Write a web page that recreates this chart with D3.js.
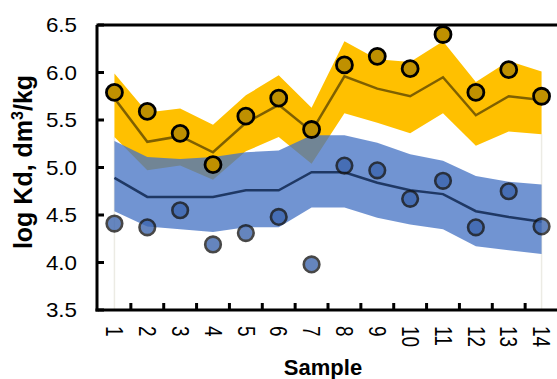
<!DOCTYPE html>
<html>
<head>
<meta charset="utf-8">
<script src="https://cdn.jsdelivr.net/npm/d3@7"></script>
<style>
  body { margin: 0; background: #fff; }
  svg { display: block; font-family: "Liberation Sans", Arial, sans-serif; }
</style>
</head>
<body>
<div id="chart"></div>
<script>
var samples = ["1","2","3","4","5","6","7","8","9","10","11","12","13","14"];
var yTicks = [3.5, 4.0, 4.5, 5.0, 5.5, 6.0, 6.5];

// orange series (upper group)
var orangeUpper = [5.99, 5.58, 5.62, 5.45, 5.76, 5.97, 5.63, 6.33, 6.14, 6.11, 6.33, 5.90, 6.12, 6.01];
var orangeLower = [5.32, 4.97, 5.02, 4.87, 5.17, 5.32, 5.04, 5.57, 5.47, 5.36, 5.57, 5.23, 5.38, 5.35];
var orangeMid   = [5.73, 5.27, 5.33, 5.16, 5.47, 5.66, 5.38, 5.96, 5.83, 5.75, 5.95, 5.55, 5.75, 5.71];
var orangePts   = [5.79, 5.59, 5.36, 5.03, 5.54, 5.73, 5.40, 6.08, 6.17, 6.04, 6.40, 5.79, 6.03, 5.75];

// blue series (lower group)
var blueUpper = [5.28, 5.11, 5.09, 5.11, 5.16, 5.18, 5.34, 5.34, 5.26, 5.14, 5.07, 4.91, 4.85, 4.82];
var blueLower = [4.54, 4.38, 4.35, 4.32, 4.37, 4.37, 4.58, 4.58, 4.47, 4.40, 4.35, 4.17, 4.13, 4.09];
var blueMid   = [4.89, 4.69, 4.69, 4.69, 4.76, 4.76, 4.95, 4.95, 4.84, 4.76, 4.72, 4.54, 4.48, 4.43];
var bluePts   = [4.41, 4.37, 4.55, 4.19, 4.31, 4.48, 3.98, 5.02, 4.97, 4.67, 4.86, 4.37, 4.75, 4.38];

var w = 557, h = 379;
var plotL = 98, plotR = 558, plotT = 25, plotB = 310;

var svg = d3.select("#chart").append("svg").attr("width", w).attr("height", h);

var x = d3.scaleBand().domain(samples).range([plotL, plotR]);
var y = d3.scaleLinear().domain([3.5, 6.5]).range([plotB, plotT]);
var cx = function(i) { return x(samples[i]) + x.bandwidth() / 2; };

function band(up, lo) {
  return d3.area()
    .x(function(d, i) { return cx(i); })
    .y0(function(d, i) { return y(lo[i]); })
    .y1(function(d, i) { return y(up[i]); })(samples);
}
function mid(vals) {
  return d3.line()
    .x(function(d, i) { return cx(i); })
    .y(function(d) { return y(d); })(vals);
}

// faint drop lines at the band ends
[0, samples.length - 1].forEach(function(i) {
  svg.append("line")
    .attr("x1", cx(i)).attr("x2", cx(i))
    .attr("y1", y(orangeLower[i])).attr("y2", plotB)
    .attr("stroke", "#ecebe4").attr("stroke-width", 1.5);
});

svg.append("path").attr("d", band(orangeUpper, orangeLower)).attr("fill", "#ffc000");
svg.append("path").attr("d", mid(orangeMid))
  .attr("fill", "none").attr("stroke", "#7f6000").attr("stroke-width", 2.5);

svg.append("path").attr("d", band(blueUpper, blueLower))
  .attr("fill", "#4472c4").attr("fill-opacity", 0.76);
svg.append("path").attr("d", mid(blueMid))
  .attr("fill", "none").attr("stroke", "#1f3864").attr("stroke-width", 2.5);

svg.selectAll("circle.blue").data(bluePts).enter().append("circle")
  .attr("class", "blue")
  .attr("cx", function(d, i) { return cx(i); })
  .attr("cy", function(d) { return y(d); })
  .attr("r", 7.8)
  .attr("fill", "#3b64ad").attr("stroke", "#141414").attr("stroke-width", 2.6)
  .attr("opacity", 0.78);

svg.selectAll("circle.orange").data(orangePts).enter().append("circle")
  .attr("class", "orange")
  .attr("cx", function(d, i) { return cx(i); })
  .attr("cy", function(d) { return y(d); })
  .attr("r", 8)
  .attr("fill", "#bf9000").attr("stroke", "#000").attr("stroke-width", 2.8);

// axes
var ax = svg.append("g").attr("stroke", "#000").attr("stroke-width", 3);
ax.append("line").attr("x1", plotL - 1.5).attr("x2", w).attr("y1", plotT).attr("y2", plotT);
ax.append("line").attr("x1", plotL - 1).attr("x2", plotL - 1).attr("y1", plotT).attr("y2", plotB + 1.5);
ax.append("line").attr("x1", plotL - 2.5).attr("x2", w).attr("y1", plotB).attr("y2", plotB);

yTicks.forEach(function(t) {
  ax.append("line").attr("x1", plotL).attr("x2", plotL + 6).attr("y1", y(t)).attr("y2", y(t));
  svg.append("text")
    .attr("transform", "translate(77," + y(t) + ") scale(1.12,1)")
    .attr("text-anchor", "end").attr("dy", "0.36em")
    .attr("font-size", 20).text(d3.format(".1f")(t));
});

samples.slice(1).forEach(function(s) {
  ax.append("line").attr("x1", x(s)).attr("x2", x(s)).attr("y1", plotB).attr("y2", plotB - 7);
});

samples.forEach(function(s, i) {
  svg.append("text")
    .attr("transform", "translate(" + cx(i) + ",326) scale(1.25,1) rotate(90)")
    .attr("dy", "0.35em").attr("font-size", 19).text(s);
});

svg.append("text")
  .attr("x", 323).attr("y", 375).attr("text-anchor", "middle")
  .attr("font-size", 22).attr("font-weight", "bold").text("Sample");

var yt = svg.append("text")
  .attr("transform", "translate(32,162) rotate(-90)")
  .attr("text-anchor", "middle").attr("font-size", 25).attr("font-weight", "bold");
yt.append("tspan").text("log Kd, dm");
yt.append("tspan").attr("font-size", 16).attr("dy", -9).text("3");
yt.append("tspan").attr("dy", 9).text("/kg");
</script>
</body>
</html>
